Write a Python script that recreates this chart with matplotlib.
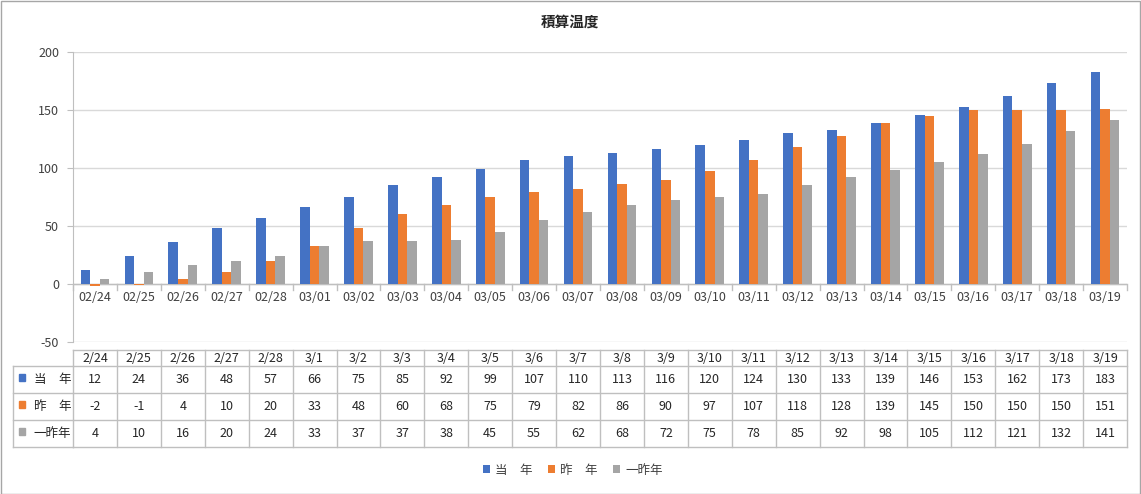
import matplotlib
matplotlib.use('Agg')
import matplotlib.pyplot as plt
from matplotlib.transforms import blended_transform_factory
from matplotlib.patches import Rectangle
from matplotlib.lines import Line2D

plt.rcParams['font.family'] = ['Noto Sans CJK JP', 'DejaVu Sans']
plt.rcParams['axes.unicode_minus'] = False

# data
axis_labels = ['02/24', '02/25', '02/26', '02/27', '02/28', '03/01', '03/02', '03/03',
               '03/04', '03/05', '03/06', '03/07', '03/08', '03/09', '03/10', '03/11',
               '03/12', '03/13', '03/14', '03/15', '03/16', '03/17', '03/18', '03/19']
table_labels = ['2/24', '2/25', '2/26', '2/27', '2/28', '3/1', '3/2', '3/3', '3/4', '3/5',
                '3/6', '3/7', '3/8', '3/9', '3/10', '3/11', '3/12', '3/13', '3/14', '3/15',
                '3/16', '3/17', '3/18', '3/19']
this_year = [12, 24, 36, 48, 57, 66, 75, 85, 92, 99, 107, 110, 113, 116, 120, 124, 130,
             133, 139, 146, 153, 162, 173, 183]
last_year = [-2, -1, 4, 10, 20, 33, 48, 60, 68, 75, 79, 82, 86, 90, 97, 107, 118, 128,
             139, 145, 150, 150, 150, 151]
two_years_ago = [4, 10, 16, 20, 24, 33, 37, 37, 38, 45, 55, 62, 68, 72, 75, 78, 85, 92,
                 98, 105, 112, 121, 132, 141]
series_names = ['当\u3000年', '昨\u3000年', '一昨年']
colors = ['#4472C4', '#ED7D31', '#A5A5A5']

W, H = 1141, 494
fig = plt.figure(figsize=(W / 100, H / 100), dpi=100)

def fy(py):
    return 1 - py / H

ax = fig.add_axes([73 / W, fy(342), (1127 - 73) / W, (342 - 52) / H])

n = len(axis_labels)
x = list(range(n))
bw = 0.218
series = [this_year, last_year, two_years_ago]
for k, vals in enumerate(series):
    ax.bar([i + (k - 1) * bw for i in x], vals, width=bw, color=colors[k], zorder=3,
           label=series_names[k])

ax.set_xlim(-0.5, n - 0.5)
ax.set_ylim(-50, 200)
ax.set_yticks([-50, 0, 50, 100, 150, 200])
ax.grid(axis='y', color='#D9D9D9', linewidth=1, zorder=0)
ax.tick_params(axis='y', length=4, color='#BFBFBF', labelsize=9, labelcolor='#404040', pad=6)
ax.set_xticks([])
for s in ['top', 'right', 'bottom']:
    ax.spines[s].set_visible(False)
ax.spines['left'].set_color('#BFBFBF')

# zero line with category ticks and labels
ax.axhline(0, color='#BFBFBF', linewidth=1, zorder=2)
tr_ax = blended_transform_factory(ax.transData, ax.transAxes)
zero_ax = 50 / 250
for i in range(n + 1):
    ax.plot([i - 0.5, i - 0.5], [zero_ax, zero_ax - 0.02], color='#BFBFBF', lw=1,
            transform=tr_ax, clip_on=False)
for i, lab in enumerate(axis_labels):
    ax.text(i, -6, lab, ha='center', va='top', fontsize=9, color='#404040')

fig.text(570 / W, fy(22), '積算温度', ha='center', va='center', fontsize=10.5,
         fontweight='bold', color='#262626')

# data table
tr = blended_transform_factory(ax.transData, fig.transFigure)
rows = [350, 366, 393, 420, 447]
gc = '#BFBFBF'
x0, x1 = -0.5, n - 0.5
ax.plot([x0, x1], [fy(rows[0])] * 2, color=gc, lw=1, transform=tr, clip_on=False)
for r in rows[1:]:
    fig.add_artist(Line2D([13 / W, 73 / W], [fy(r)] * 2, color=gc, lw=1))
    ax.plot([x0, x1], [fy(r)] * 2, color=gc, lw=1, transform=tr, clip_on=False)
for i in range(n + 1):
    ax.plot([i - 0.5, i - 0.5], [fy(rows[0]), fy(rows[-1])], color=gc, lw=1,
            transform=tr, clip_on=False)
fig.add_artist(Line2D([13 / W] * 2, [fy(rows[1]), fy(rows[-1])], color=gc, lw=1))

for i, lab in enumerate(table_labels):
    ax.text(i, fy((rows[0] + rows[1]) / 2), lab, ha='center', va='center', fontsize=9,
            color='#262626', transform=tr)
for k, vals in enumerate(series):
    yc = fy((rows[k + 1] + rows[k + 2]) / 2)
    for i, v in enumerate(vals):
        ax.text(i, yc, str(v), ha='center', va='center', fontsize=9, color='#262626',
                transform=tr)
    fig.add_artist(Rectangle((19 / W, yc - 1.5 / H), 6 / W, 7 / H, color=colors[k]))
    fig.text(71 / W, yc, series_names[k], ha='right', va='center', fontsize=9,
             color='#262626')

leg = fig.legend(loc='center', bbox_to_anchor=(0.502, fy(470)), ncol=3, frameon=False,
                 fontsize=9, handlelength=0.6, handleheight=0.6, handletextpad=0.4,
                 columnspacing=1.2)
for t in leg.get_texts():
    t.set_color('#404040')

fig.add_artist(Rectangle((0.5 / W, 0.5 / H), 1 - 1.5 / W, 1 - 1.5 / H, fill=False,
                         edgecolor='#A6A6A6', lw=1))

fig.savefig('out.png', dpi=100)
